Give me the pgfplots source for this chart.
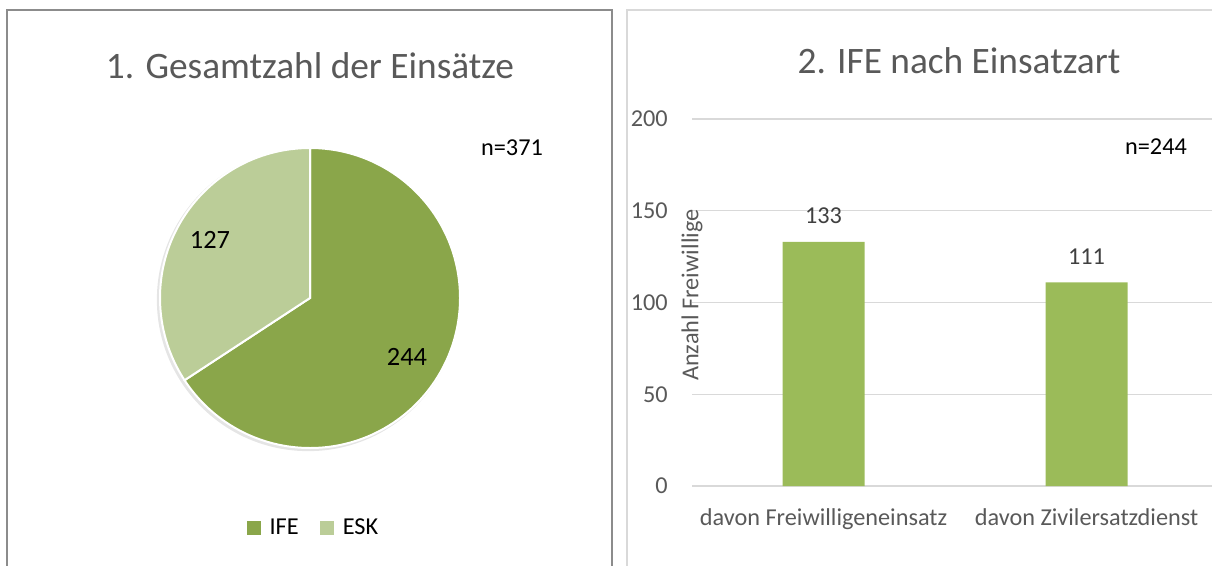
\documentclass[border=0pt]{standalone}
\usepackage{pgfplots}
\pgfplotsset{compat=1.18}
\usepackage{fontspec}
\setmainfont{Carlito}
\definecolor{IFEc}{HTML}{8AA64A}
\definecolor{ESKc}{HTML}{BBCD98}
\definecolor{barc}{HTML}{9BBB59}
\definecolor{gridc}{HTML}{D9D9D9}
\definecolor{txt}{HTML}{595959}
\definecolor{lbl}{HTML}{404040}
\definecolor{frameL}{HTML}{8C8C8C}
\newcommand\ftitle{\fontsize{28}{33}\selectfont}
\newcommand\flab{\fontsize{18.2}{22}\selectfont}
\newcommand\fpie{\fontsize{19.8}{24}\selectfont}
\def\vIFE{244}
\def\vESK{127}
\begin{document}
\begin{tikzpicture}
\path[use as bounding box] (0,0) rectangle (909pt,423.75pt);
% panel frames
\draw[frameL, line width=1.5pt] (5.25pt,-10pt) -- (5.25pt,416.25pt) -- (459pt,416.25pt) -- (459pt,-10pt);
\draw[gridc, line width=1.5pt] (470.25pt,-10pt) -- (470.25pt,416.25pt) -- (930pt,416.25pt);
% titles
\node[anchor=base, text=txt, font=\ftitle, inner sep=0pt] at (232.5pt,364.5pt) {1. Gesamtzahl der Einsätze};
\node[anchor=base, text=txt, font=\ftitle, inner sep=0pt] at (719.25pt,368.25pt) {2. IFE nach Einsatzart};
% pie
\begin{axis}[
  at={(232.5pt,200.25pt)}, anchor=center,
  x=112.5pt, y=112.5pt, xmin=-1, xmax=1, ymin=-1, ymax=1,
  hide axis, clip=false,
  legend columns=2,
  legend style={draw=none, fill=none, at={(axis cs:0.025,-1.533)}, anchor=center,
    font=\flab, text=black, inner sep=0pt,
    /tikz/every odd column/.append style={column sep=5pt},
    /tikz/every even column/.append style={column sep=14pt}},
  legend cell align=left,
  legend image code/.code={\fill[#1] (0pt,-4.9pt) rectangle (9.75pt,4.9pt);},
]
\pgfmathsetmacro\angsplit{90-360/(\vIFE+\vESK)*\vIFE}
\fill[black, opacity=0.10] (axis cs:-0.012,-0.012) circle[radius=113.5pt];
\fill[IFEc, draw=white, line width=1.5pt] (axis cs:0,0) -- (axis cs:0,1) arc[start angle=90, end angle=\angsplit, radius=112.5pt] -- cycle;
\fill[ESKc, draw=white, line width=1.5pt] (axis cs:0,0) -- (axis cs:0,1) arc[start angle=90, end angle={\angsplit+360}, radius=112.5pt] -- cycle;
\addlegendimage{IFEc}\addlegendentry{IFE}
\addlegendimage{ESKc}\addlegendentry{ESK}
\node[font=\fpie, text=black, inner sep=0pt] at (axis cs:{(407-310)/150},{(298-357)/150}) {\vIFE};
\node[font=\fpie, text=black, inner sep=0pt] at (axis cs:{(210-310)/150},{(298-240)/150}) {\vESK};
\end{axis}
\node[font=\flab, text=black, inner sep=0pt] at (384pt,312.75pt) {n=371};
% bars
\begin{axis}[
  at={(519pt,59.25pt)}, anchor=south west,
  scale only axis, width=394.5pt, height=275.25pt,
  xmin=-0.5, xmax=1.5, ymin=0, ymax=200,
  ytick={0,50,100,150,200},
  xtick={0,1}, xticklabels={davon Freiwilligeneinsatz, davon Zivilersatzdienst},
  ymajorgrids, grid style={gridc, line width=1.1pt},
  axis line style={draw=none}, major tick length=0pt,
  tick label style={font=\flab, text=txt},
  /pgf/number format/assume math mode=true,
  yticklabel style={anchor=east, inner sep=0pt, xshift=-18pt},
  xticklabel style={anchor=base, inner sep=0pt, yshift=-29.25pt},
  clip=false,
]
\addplot[ybar, bar width=61.5pt, fill=barc, draw=none,
  nodes near coords,
  every node near coord/.append style={font=\flab, text=lbl, inner sep=0pt, yshift=13.5pt}]
  coordinates {(0,133) (1,111)};
\node[rotate=90, font=\flab, text=txt, inner sep=0pt] at (rel axis cs:0,0.52) {Anzahl Freiwillige};
\end{axis}
\node[font=\flab, text=black, inner sep=0pt] at (867pt,313.5pt) {n=244};
\end{tikzpicture}
\end{document}
